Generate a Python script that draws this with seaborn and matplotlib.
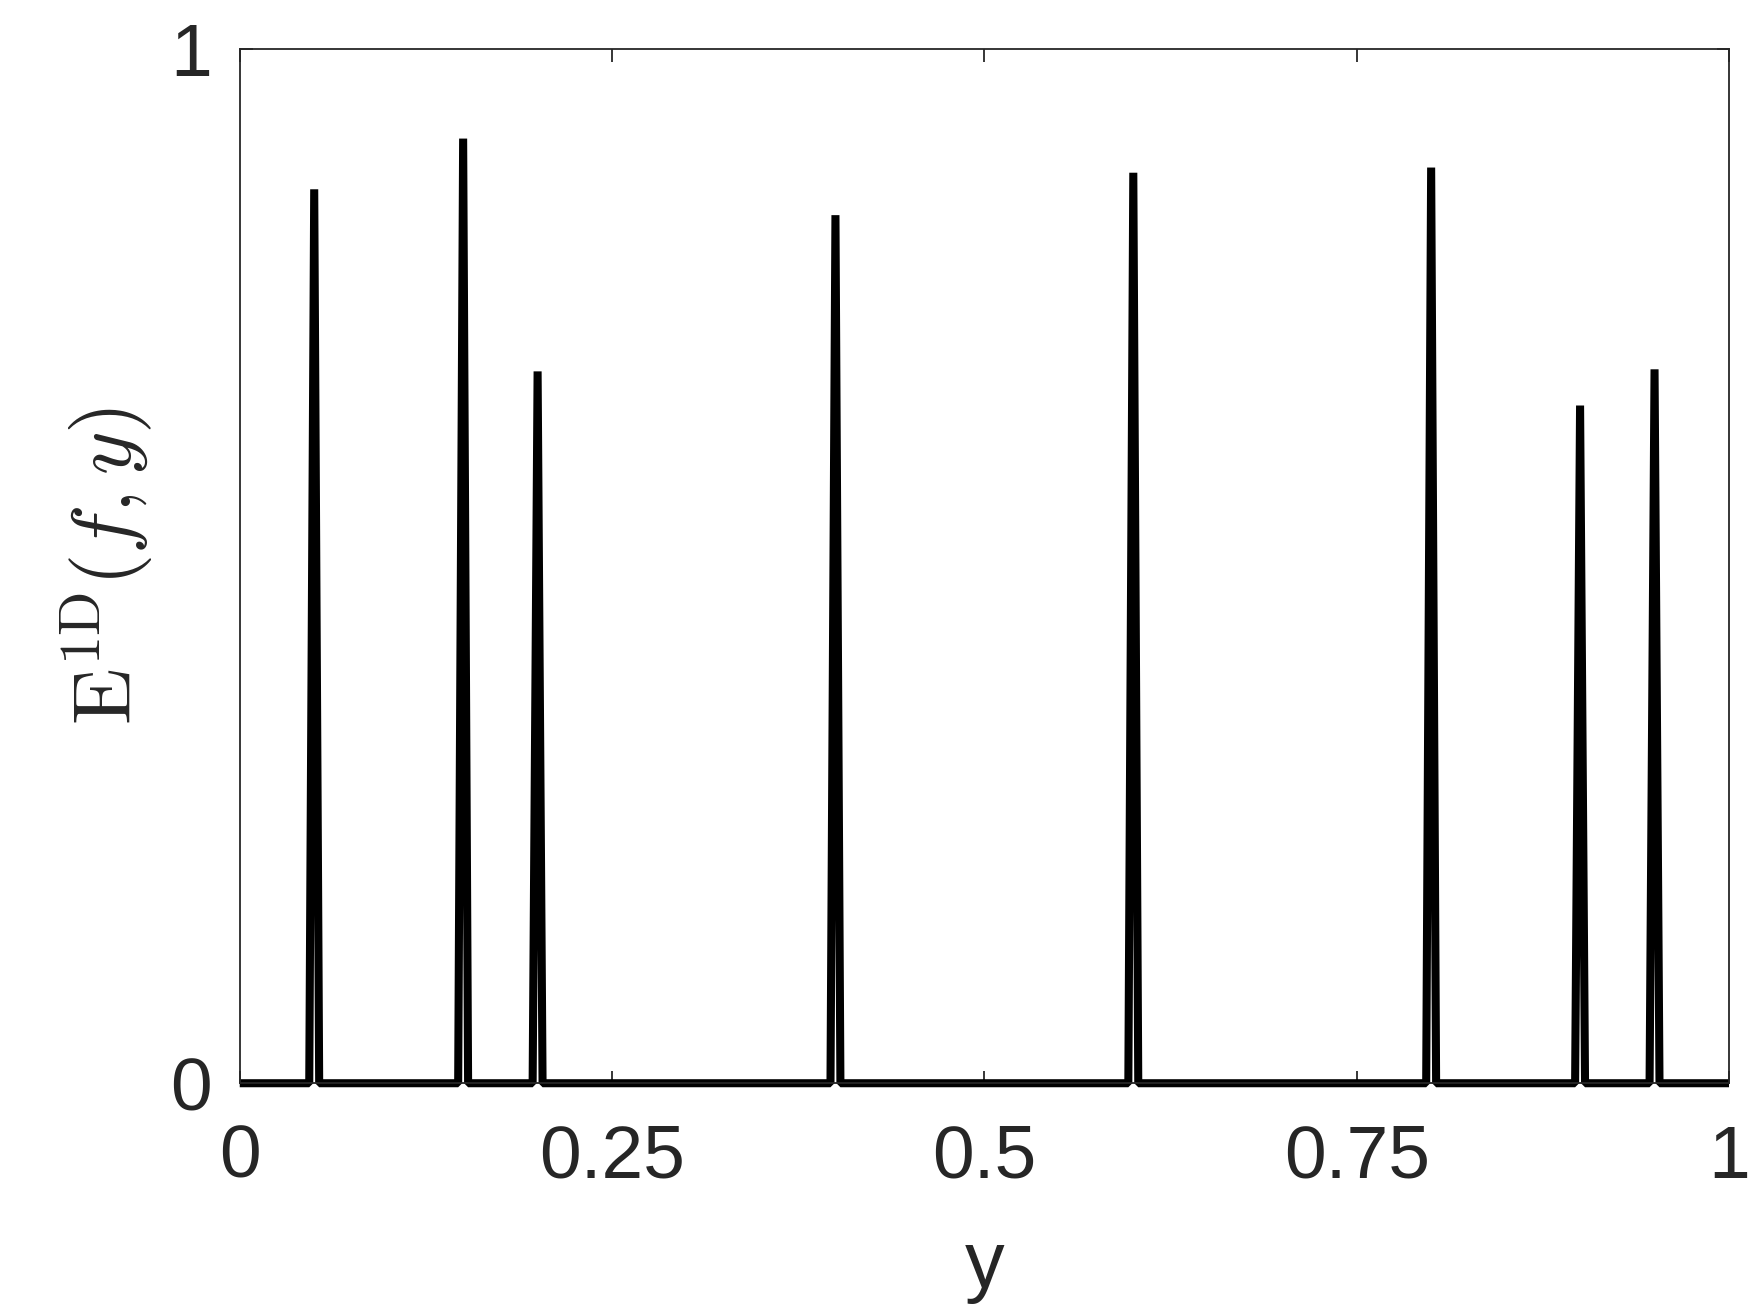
import numpy as np
import pandas as pd
import matplotlib
matplotlib.use("Agg")
import matplotlib.pyplot as plt
import seaborn as sns

sns.set_theme(style="white")
plt.rcParams["font.family"] = ["Liberation Sans", "DejaVu Sans"]
plt.rcParams["mathtext.fontset"] = "cm"

# Spike locations (y) and peak values
peak_y = [0.05, 0.15, 0.20, 0.40, 0.60, 0.80, 0.90, 0.95]
peak_val = [0.864, 0.913, 0.688, 0.839, 0.880, 0.885, 0.655, 0.690]
n_grid = 301  # sample grid of the curve, step 1/300
x_ticks = [0, 0.25, 0.5, 0.75, 1]
x_tick_labels = ["0", "0.25", "0.5", "0.75", "1"]
y_ticks = [0, 1]
y_tick_labels = ["0", "1"]


def build_curve() -> pd.DataFrame:
    """Zero baseline on the grid with a single-sample spike at each peak."""
    y = np.linspace(0, 1, n_grid)
    e = np.zeros(n_grid)
    for p, v in zip(peak_y, peak_val):
        e[int(round(p * (n_grid - 1)))] = v
    return pd.DataFrame({"y": y, "E": e})


def main():
    df = build_curve()
    ink = "#262626"

    fig = plt.figure(figsize=(17.5, 13.13), dpi=100)
    ax = fig.add_axes([0.137, 0.175, 0.851, 0.788])

    sns.lineplot(data=df, x="y", y="E", ax=ax, color="black", linewidth=5.8,
                 estimator=None, sort=False)
    for line in ax.lines:
        line.set_solid_joinstyle("bevel")
        line.set_solid_capstyle("butt")
        line.set_clip_on(False)

    ax.set_xlim(0, 1)
    ax.set_ylim(0, 1)
    ax.set_xticks(x_ticks)
    ax.set_xticklabels(x_tick_labels)
    ax.set_yticks(y_ticks)
    ax.set_yticklabels(y_tick_labels)
    ax.tick_params(axis="both", direction="in", length=9, width=1.3, color=ink,
                   labelsize=54, labelcolor=ink, top=True, right=True,
                   bottom=True, left=True)
    ax.tick_params(axis="x", pad=29)
    ax.tick_params(axis="y", pad=20)
    for s in ax.spines.values():
        s.set_color(ink)
        s.set_linewidth(1.3)

    ax.set_xlabel("y", fontsize=57, color=ink, labelpad=26)
    ax.set_ylabel(r"$\mathrm{E}^{\mathrm{1D}}(f,y)$", fontsize=60, color=ink, labelpad=10)

    fig.savefig("out.png", dpi=100)
    plt.close(fig)


if __name__ == "__main__":
    main()
